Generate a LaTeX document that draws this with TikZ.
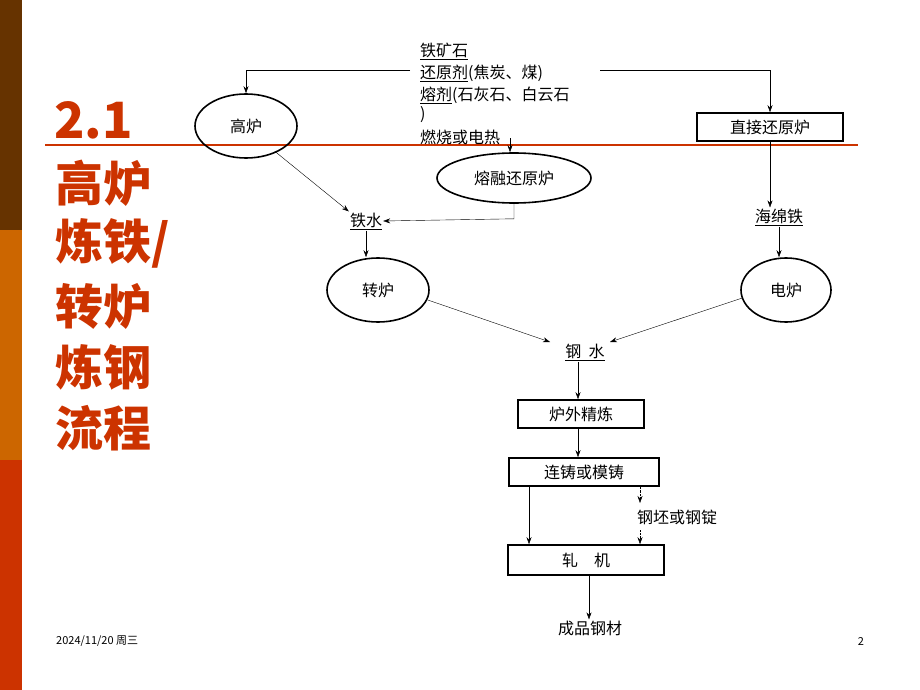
\documentclass[tikz,border=0pt]{standalone}
\usepackage{fontspec}
\setmainfont{Noto Sans CJK SC}
\usetikzlibrary{shapes.geometric,arrows.meta}
\definecolor{titlered}{HTML}{CC3300}
\definecolor{barbrown}{HTML}{663300}
\definecolor{barorange}{HTML}{CC6600}
\begin{document}
\begin{tikzpicture}[x=1pt, y=-1pt, font=\fontsize{16}{18}\selectfont,
    furnace/.style={ellipse, draw, line width=1.6pt, inner sep=0},
    stage/.style={rectangle, draw, line width=1.6pt, inner sep=0},
    tag/.style={inner sep=1pt},
    flow/.style={-{Stealth[length=7pt,width=5pt]}, thin},
    title/.style={text=titlered, font=\fontsize{48}{52}\selectfont\bfseries, anchor=west, inner sep=0},
  ]
  \useasboundingbox (0,0) rectangle (920,690);
  % sidebar and rule
  \fill[barbrown] (0,0) rectangle (22,230);
  \fill[barorange] (0,230) rectangle (22,460);
  \fill[titlered] (0,460) rectangle (22,690);
  \draw[titlered, line width=1.2pt] (45,145) -- (858,145);

  \node[title, font=\fontsize{50}{54}\selectfont\bfseries] (t0) at (54,120) {2.1};
  \node[title] (t1) at (55,183) {高炉};
  \node[title] (t2) at (55,243) {炼铁/};
  \node[title] (t3) at (55,306) {转炉};
  \node[title] (t4) at (55,367) {炼钢};
  \node[title] (t5) at (55,428) {流程};

  % raw materials
  \node[tag, anchor=west] (m1) at (419,51) {\underline{铁矿石}};
  \node[tag, anchor=west] (m2) at (419,73) {\underline{还原剂}(焦炭、煤)};
  \node[tag, anchor=west] (m3) at (419,95) {\underline{熔剂}(石灰石、白云石};
  \node[tag, anchor=west] (m4) at (419,115) {)};
  \node[tag, anchor=west] (m5) at (419,137) {燃烧或电热};

  \node[furnace, minimum width=102, minimum height=64] (bf) at (246,126) {高炉};
  \node[furnace, minimum width=154, minimum height=50] (sr) at (514,178) {熔融还原炉};
  \node[stage, minimum width=146, minimum height=28] (dr) at (770,127) {直接还原炉};
  \node[tag] (iron) at (366,221) {\underline{铁水}};
  \node[tag] (sponge) at (779,217) {\underline{海绵铁}};
  \node[furnace, minimum width=102, minimum height=64] (bof) at (378,290) {转炉};
  \node[furnace, minimum width=90, minimum height=64] (eaf) at (786,290) {电炉};
  \node[tag] (steel) at (585,352) {\underline{钢\ \ 水}};
  \node[stage, minimum width=126, minimum height=28] (ref) at (581,414) {炉外精炼};
  \node[stage, minimum width=150, minimum height=28] (cast) at (584,472) {连铸或模铸};
  \node[tag] (billet) at (677,517) {钢坯或钢锭};
  \node[stage, minimum width=156, minimum height=30] (mill) at (586,560) {轧\quad 机};
  \node[tag] (prod) at (590,628) {成品钢材};

  \coordinate (fl) at (410,70);
  \coordinate (fr) at (600,70);
  \coordinate (fm) at (510,138);
  \draw[flow] (fl) -| (bf.north);
  \draw[flow] (fr) -| (dr.north);
  \draw[flow] (fm) -- (sr.north -| fm);
  \draw[flow] (bf.south east) ++(-8,2) -- (iron.north west);
  \draw[flow] (sr.south) -- ++(0,15) -- (iron.east);
  \draw[flow] (iron.south) -- (bof.north -| iron.south);
  \draw[flow] (dr.south) -- (sponge.north -| dr.south);
  \draw[flow] (sponge.south) -- (eaf.north -| sponge.south);
  \draw[flow] (bof.east) ++(-2,10) -- (550,342);
  \draw[flow] (eaf.west) ++(2,8) -- (610,342);
  \draw[flow] (steel.south -| 578,0) -- (ref.north -| 578,0);
  \draw[flow] (ref.south -| 578,0) -- (cast.north -| 578,0);
  \draw[flow] (cast.south -| 529,0) -- (mill.north -| 529,0);
  \draw[flow, densely dotted] (cast.south -| 640,0) -- (640,503);
  \draw[flow, densely dotted] (640,530) -- (mill.north -| 640,0);
  \draw[flow] (mill.south -| 589,0) -- (prod.north -| 589,0);

  % footer
  \node[tag, font=\fontsize{11}{13}\selectfont, anchor=west] (date) at (55,641) {2024/11/20 周三};
  \node[tag, font=\fontsize{11}{13}\selectfont] (page) at (861,641) {2};
\end{tikzpicture}
\end{document}
